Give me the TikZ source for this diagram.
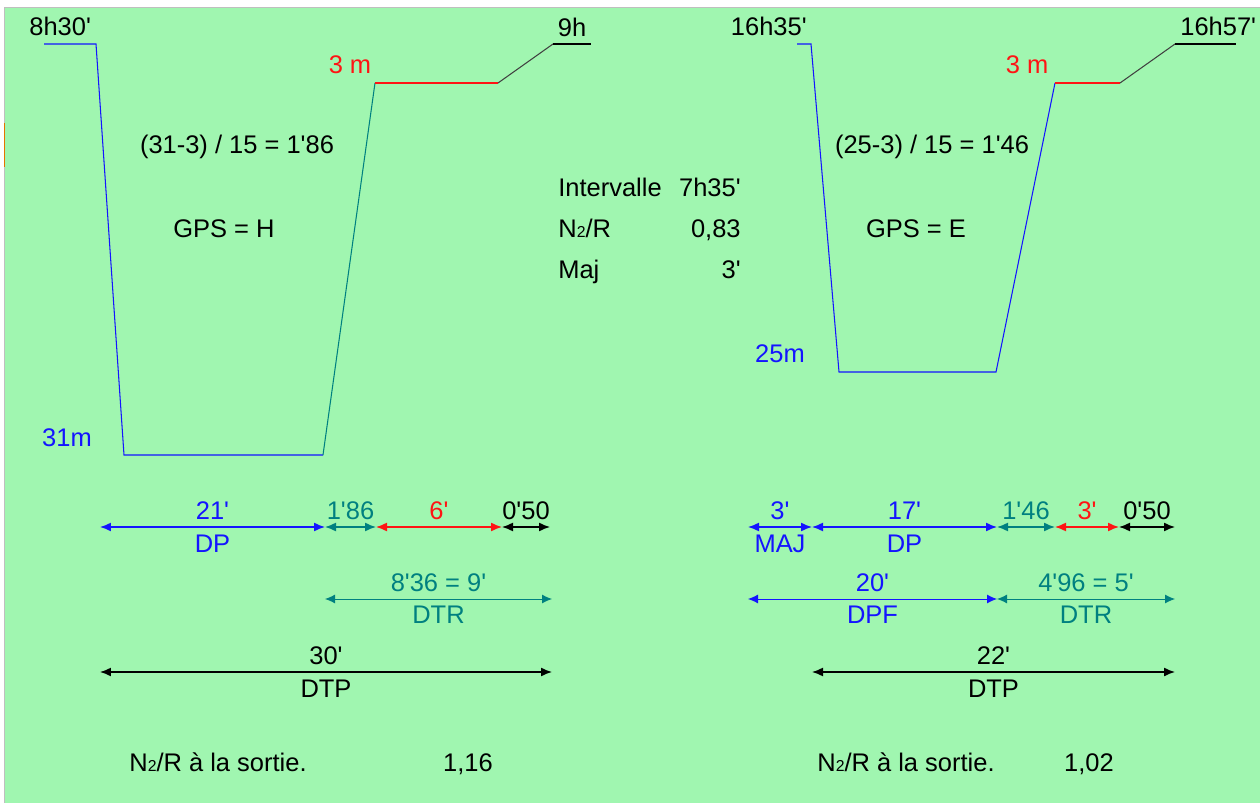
\documentclass[tikz,border=0pt]{standalone}
\usepackage{fontspec}
\setmainfont{Liberation Sans}[Ligatures=TeXOff]
\usepackage{tikz}
\usetikzlibrary{arrows.meta}
\definecolor{bgGreen}{RGB}{160,246,176}
\definecolor{diveBlue}{RGB}{20,20,255}
\definecolor{diveTeal}{RGB}{0,128,128}
\definecolor{diveRed}{RGB}{255,20,20}
\definecolor{diveGrey}{RGB}{64,64,64}
\newcommand{\ntwo}{N{\fontsize{9}{9}\selectfont 2}/R}
\tikzset{
    txtNode/.style={
        inner sep=0pt,
        anchor=base
    },
    profLine/.style={
        line width=0.6pt
    },
    dimArrow/.style={
        {Latex[length=2.2mm, width=1.8mm]}-{Latex[length=2.2mm, width=1.8mm]},
        line width=0.8pt
    },
    dimArrowThin/.style={
        {Latex[length=2mm, width=1.8mm]}-{Latex[length=2mm, width=1.8mm]},
        line width=0.5pt
    },
    upLbl/.style={midway, above=4pt, inner sep=0pt},
    downLbl/.style={midway, below=4pt, inner sep=0pt}
}

\begin{document}
\begin{tikzpicture}[x=0.02cm, y=-0.02cm, every node/.style={font=\fontsize{14.5}{17}\selectfont}]
            % Background
            \useasboundingbox (0,0) rectangle (1260,803);
            \fill[bgGreen] (5,8) rectangle (1260,803);
            \draw[black!25, line width=0.6pt] (4.5,803) -- (4.5,7.5) -- (1260,7.5);
            \draw[orange!90!black, line width=0.8pt] (4.5,123) -- (4.5,167);

            % Coordinates (first dive)
            \coordinate (lStart) at (44,44);
            \coordinate (lDown) at (96,44);
            \coordinate (lBotL) at (124,455);
            \coordinate (lBotR) at (323,455);
            \coordinate (lStop) at (375,83);
            \coordinate (lStopEnd) at (498,83);
            \coordinate (lSurf) at (553,44);
            \coordinate (lEnd) at (591,44);

            % Coordinates (second dive)
            \coordinate (rStart) at (797,44);
            \coordinate (rDown) at (811,44);
            \coordinate (rBotL) at (839,372);
            \coordinate (rBotR) at (996,372);
            \coordinate (rStop) at (1055,83);
            \coordinate (rStopEnd) at (1120,83);
            \coordinate (rSurf) at (1175,44);
            \coordinate (rEnd) at (1236,44);

            % Profiles
            \draw[profLine, diveBlue] (lStart) -- (lDown) -- (lBotL) -- (lBotR);
            \draw[profLine, diveTeal] (lBotR) -- (lStop);
            \draw[profLine, diveRed] (lStop) -- (lStopEnd);
            \draw[profLine, diveGrey] (lStopEnd) -- (lSurf);
            \draw[profLine, black] (lSurf) -- (lEnd);

            \draw[profLine, diveBlue] (rStart) -- (rDown) -- (rBotL) -- (rBotR) -- (rStop);
            \draw[profLine, diveRed] (rStop) -- (rStopEnd);
            \draw[profLine, diveGrey] (rStopEnd) -- (rSurf);
            \draw[profLine, black] (rSurf) -- (rEnd);

            % Profile labels
            \node[txtNode, anchor=base west] (lTimeIn) at (29,36) {8h30'};
            \node[txtNode] (lTimeOut) at (572,37) {9h};
            \node[txtNode, text=diveRed] (lStopLbl) at (350,74) {3 m};
            \node[txtNode] (lCalc) at (237,154) {(31-3) / 15 = 1'86};
            \node[txtNode] (lGps) at (224,238) {GPS = H};
            \node[txtNode, text=diveBlue] (lDepth) at (67,446) {31m};

            \node[txtNode, anchor=base east] (rTimeIn) at (807,36) {16h35'};
            \node[txtNode, anchor=base west] (rTimeOut) at (1180,36) {16h57'};
            \node[txtNode, text=diveRed] (rStopLbl) at (1027,74) {3 m};
            \node[txtNode] (rCalc) at (932,154) {(25-3) / 15 = 1'46};
            \node[txtNode] (rGps) at (916,238) {GPS = E};
            \node[txtNode, text=diveBlue] (rDepth) at (780,363) {25m};

            % Interval table
            \node[txtNode, anchor=base west] (intName) at (558,197) {Intervalle};
            \node[txtNode, anchor=base east] (intVal) at (741,197) {7h35'};
            \node[txtNode, anchor=base west] (nrName) at (558,238) {\ntwo};
            \node[txtNode, anchor=base east] (nrVal) at (741,238) {0,83};
            \node[txtNode, anchor=base west] (majName) at (558,279) {Maj};
            \node[txtNode, anchor=base east] (majVal) at (741,279) {3'};

            % Durations (first dive)
            \coordinate (lA0) at (100,527);
            \coordinate (lA1) at (325,527);
            \coordinate (lA2) at (376,527);
            \coordinate (lA3) at (502,527);
            \coordinate (lA4) at (550,527);
            \coordinate (lB0) at (325,599);
            \coordinate (lB1) at (552,599);
            \coordinate (lC0) at (100,672);
            \coordinate (lC1) at (552,672);

            \draw[dimArrow, diveBlue] (lA0) -- (lA1) node[upLbl] {21'} node[downLbl] {DP};
            \draw[dimArrow, diveTeal] (lA1) -- (lA2) node[upLbl] {1'86};
            \draw[dimArrow, diveRed] (lA2) -- (lA3) node[upLbl] {6'};
            \draw[dimArrow, black] (lA3) -- (lA4) node[upLbl] {0'50};
            \draw[dimArrowThin, diveTeal] (lB0) -- (lB1) node[upLbl] {8'36 = 9'} node[downLbl] {DTR};
            \draw[dimArrow, black] (lC0) -- (lC1) node[upLbl] {30'} node[downLbl] {DTP};

            % Durations (second dive)
            \coordinate (rA0) at (748,527);
            \coordinate (rA1) at (812,527);
            \coordinate (rA2) at (997,527);
            \coordinate (rA3) at (1055,527);
            \coordinate (rA4) at (1119,527);
            \coordinate (rA5) at (1175,527);
            \coordinate (rB0) at (748,599);
            \coordinate (rB1) at (997,599);
            \coordinate (rB2) at (1175,599);
            \coordinate (rC0) at (812,672);
            \coordinate (rC1) at (1175,672);

            \draw[dimArrow, diveBlue] (rA0) -- (rA1) node[upLbl] {3'} node[downLbl] {MAJ};
            \draw[dimArrow, diveBlue] (rA1) -- (rA2) node[upLbl] {17'} node[downLbl] {DP};
            \draw[dimArrow, diveTeal] (rA2) -- (rA3) node[upLbl] {1'46};
            \draw[dimArrow, diveRed] (rA3) -- (rA4) node[upLbl] {3'};
            \draw[dimArrow, black] (rA4) -- (rA5) node[upLbl] {0'50};
            \draw[dimArrowThin, diveBlue] (rB0) -- (rB1) node[upLbl] {20'} node[downLbl] {DPF};
            \draw[dimArrowThin, diveTeal] (rB1) -- (rB2) node[upLbl] {4'96 = 5'} node[downLbl] {DTR};
            \draw[dimArrow, black] (rC0) -- (rC1) node[upLbl] {22'} node[downLbl] {DTP};

            % Exit nitrogen
            \node[txtNode, anchor=base west] (lExitName) at (129,771) {\ntwo{} à la sortie.};
            \node[txtNode] (lExitVal) at (468,771) {1,16};
            \node[txtNode, anchor=base west] (rExitName) at (817,771) {\ntwo{} à la sortie.};
            \node[txtNode] (rExitVal) at (1089,771) {1,02};
        \end{tikzpicture}
\end{document}
